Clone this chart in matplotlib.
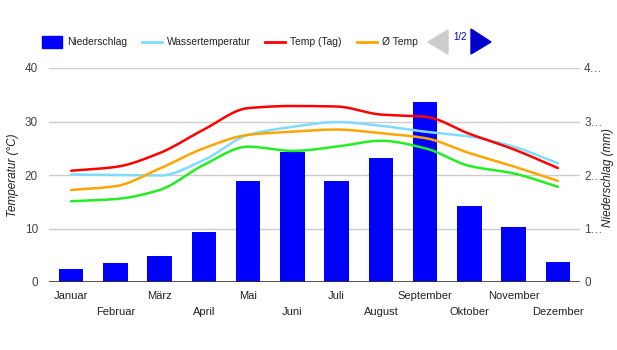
import numpy as np
import matplotlib
matplotlib.use("Agg")
import matplotlib.pyplot as plt
from matplotlib.patches import Rectangle, Polygon
from matplotlib.lines import Line2D

months = ["Januar", "Februar", "März", "April", "Mai", "Juni", "Juli",
          "August", "September", "Oktober", "November", "Dezember"]
precip_mm = [24, 36, 49, 93, 189, 243, 189, 232, 336, 142, 103, 37]
water_temp = [20.1, 20.0, 19.9, 22.8, 27.5, 29.0, 29.9, 29.2, 28.1, 27.2, 25.3, 22.2]
temp_day = [20.8, 21.5, 24.1, 28.5, 32.5, 32.9, 32.8, 31.3, 30.9, 27.7, 24.8, 21.3]
temp_avg = [17.2, 17.9, 21.2, 25.0, 27.5, 28.1, 28.5, 27.8, 26.9, 24.1, 21.6, 18.9]
temp_night = [15.1, 15.5, 17.2, 21.9, 25.3, 24.5, 25.3, 26.4, 25.0, 21.7, 20.3, 17.8]
left_ticks = [0, 10, 20, 30, 40]
right_ticks = ["0", "1…", "2…", "3…", "4…"]

plt.rcParams['font.family'] = ['Liberation Sans', 'DejaVu Sans']


def smooth(x, y, n=20):
    x = np.asarray(x, float)
    y = np.asarray(y, float)
    h = np.diff(x)
    d = np.diff(y) / h
    m = np.zeros_like(y)
    for i in range(1, len(y) - 1):
        if d[i - 1] * d[i] > 0:
            m[i] = 2 / (1 / d[i - 1] + 1 / d[i])
    m[0] = d[0]
    m[-1] = d[-1]
    xs, ys = [], []
    for i in range(len(x) - 1):
        t = np.linspace(0, 1, n, endpoint=False)
        h00 = 2 * t**3 - 3 * t**2 + 1
        h10 = t**3 - 2 * t**2 + t
        h01 = -2 * t**3 + 3 * t**2
        h11 = t**3 - t**2
        xs.append(x[i] + t * h[i])
        ys.append(h00 * y[i] + h10 * h[i] * m[i] + h01 * y[i + 1] + h11 * h[i] * m[i + 1])
    xs.append([x[-1]])
    ys.append([y[-1]])
    return np.concatenate(xs), np.concatenate(ys)


fig = plt.figure(figsize=(6.17, 3.5), dpi=100)
ax = fig.add_axes([49 / 617, 68 / 350, 531 / 617, 214 / 350])
ax2 = ax.twinx()

x = np.arange(len(months))
ax2.bar(x, precip_mm, width=0.55, color="#0000ff", zorder=2)
ax2.set_ylim(0, 400)
ax2.set_yticks([0, 100, 200, 300, 400])
ax2.set_yticklabels(right_ticks)

ax.set_zorder(ax2.get_zorder() + 1)
ax.patch.set_visible(False)

for vals, col in [(water_temp, "#80dcff"), (temp_day, "#ff0000"),
                  (temp_avg, "#ffa500"), (temp_night, "#22ee22")]:
    xs, ys = smooth(x, vals)
    ax.plot(xs, ys, color=col, lw=1.8, solid_capstyle="round")

ax.set_xlim(-0.5, 11.5)
ax.set_ylim(0, 40)
ax.set_yticks(left_ticks)
for t in left_ticks[1:]:
    ax2.axhline(t * 10, color="#cccccc", lw=1, zorder=0)
ax2.axhline(0, color="#333333", lw=1.2, zorder=3)

for a in (ax, ax2):
    for s in a.spines.values():
        s.set_visible(False)
ax.tick_params(axis="y", length=0, labelcolor="#444444", labelsize=8.5, pad=8)
ax2.tick_params(axis="y", length=0, labelcolor="#444444", labelsize=8.5, pad=3)
ax.set_xticks(x)
ax.set_xticklabels([])
ax.tick_params(axis="x", length=0)
for i, m in enumerate(months):
    dy = -0.04 if i % 2 == 0 else -0.115
    ax.text(i, dy, m, transform=ax.get_xaxis_transform(), ha="center", va="top",
            fontsize=8, color="#222222")


def fx(px):
    return px / 617


def fy(py):
    return 1 - py / 350


fig.text(fx(13), fy(175), "Temperatur (°C)", fontsize=8.5, style="italic", color="#222222",
         rotation=90, ha="center", va="center")
fig.text(fx(608), fy(178), "Niederschlag (mm)", fontsize=8.5, style="italic", color="#222222",
         rotation=90, ha="center", va="center")

# Legend
lf = 7.4
fig.patches.append(Rectangle((fx(42), fy(48)), fx(20), 12 / 350, color="#0000ff",
                             transform=fig.transFigure, figure=fig))
fig.text(fx(67), fy(42), "Niederschlag", fontsize=lf, va="center", color="#222222")
fig.lines.append(Line2D([fx(142), fx(162)], [fy(42), fy(42)], color="#80dcff", lw=2,
                        transform=fig.transFigure, figure=fig))
fig.text(fx(167), fy(42), "Wassertemperatur", fontsize=lf, va="center", color="#222222")
fig.lines.append(Line2D([fx(265), fx(285)], [fy(42), fy(42)], color="#ff0000", lw=2,
                        transform=fig.transFigure, figure=fig))
fig.text(fx(290), fy(42), "Temp (Tag)", fontsize=lf, va="center", color="#222222")
fig.lines.append(Line2D([fx(357), fx(377)], [fy(42), fy(42)], color="#ffa500", lw=2,
                        transform=fig.transFigure, figure=fig))
fig.text(fx(382), fy(42), "Ø Temp", fontsize=lf, va="center", color="#222222")
fig.patches.append(Polygon([(fx(428), fy(42)), (fx(448), fy(30)), (fx(448), fy(54))],
                           closed=True, color="#cccccc", transform=fig.transFigure, figure=fig))
fig.text(fx(460), fy(37), "1/2", fontsize=7, ha="center", va="center", color="#0000cc")
fig.patches.append(Polygon([(fx(491), fy(42)), (fx(471), fy(29)), (fx(471), fy(54))],
                           closed=True, color="#0000cc", transform=fig.transFigure, figure=fig))

fig.savefig("out.png", dpi=100)
